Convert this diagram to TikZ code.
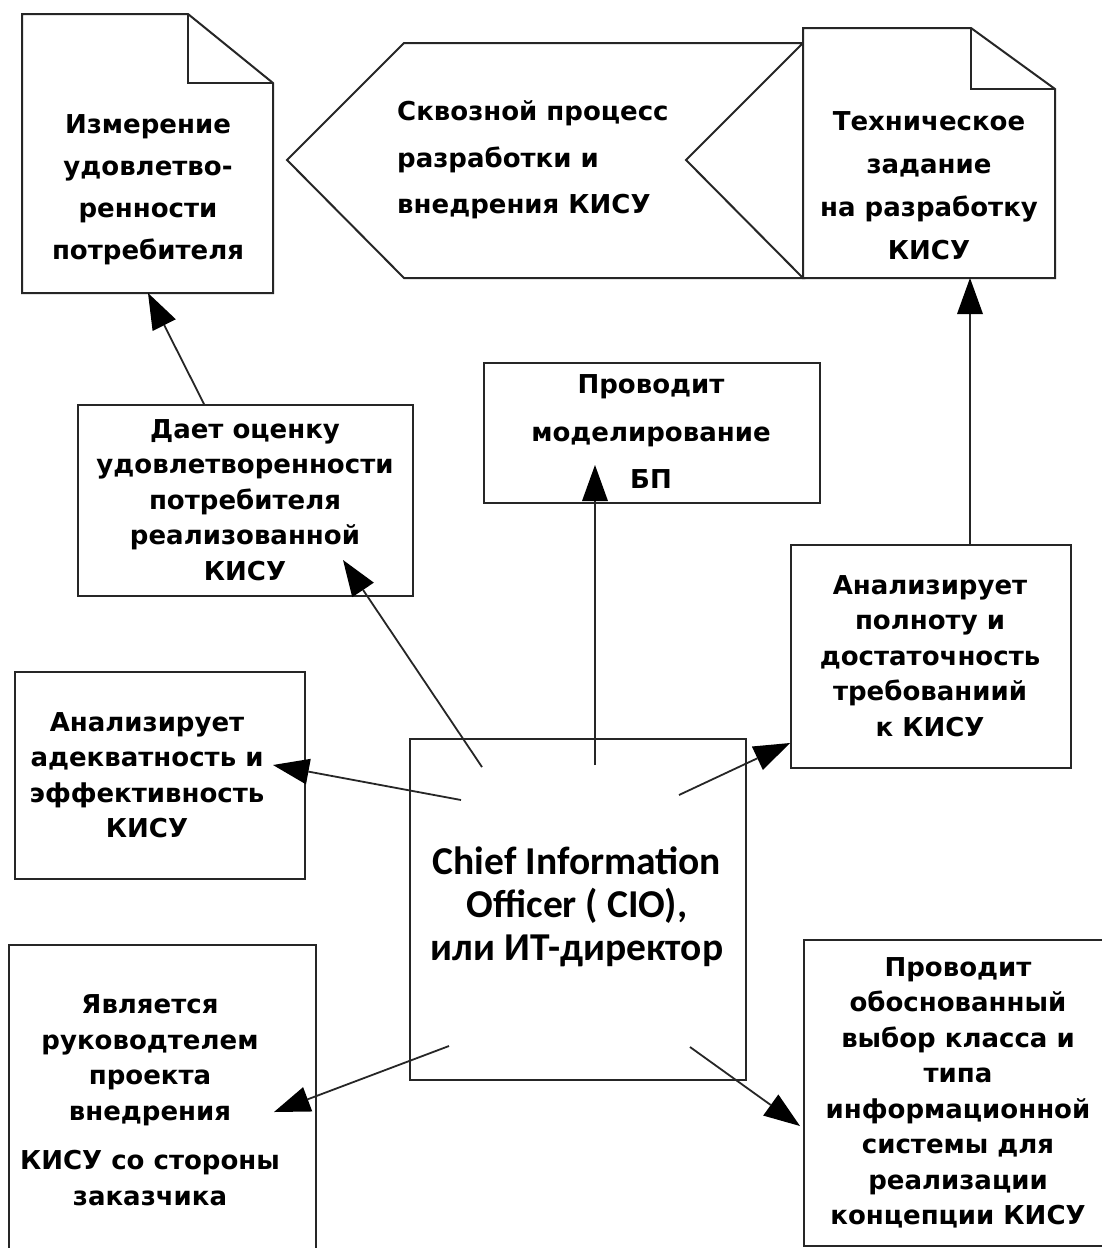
\documentclass[tikz,border=0pt]{standalone}
\usepackage{fontspec}
\setmainfont{DejaVu Sans}
\newfontfamily\cioFont{Carlito}
\usetikzlibrary{arrows.meta}
\begin{document}
\begin{tikzpicture}[x=1pt,y=-1pt,
  shapeline/.style={draw=black!85, line width=2pt, line join=miter},
  boxnode/.style={draw=black!85, line width=2pt, inner sep=0pt, anchor=north west, fill=white},
  txt/.style={align=center, inner sep=0pt, font=\bfseries\fontsize{26}{35.5}\selectfont},
  conn/.style={draw=black!85, line width=1.8pt, -{Triangle[length=36pt,width=26pt,fill=black,line width=0pt]}}]
\clip (0,0) rectangle (1102,1248);
\fill[white] (0,0) rectangle (1102,1248);

% document 1
\draw[shapeline, fill=white] (22,14) -- (188,14) -- (273,83) -- (273,293) -- (22,293) -- cycle;
\draw[shapeline] (188,14) -- (188,83) -- (273,83);
\node[txt, font=\bfseries\fontsize{26}{42}\selectfont] (doc1) at (148,190) {Измерение\\удовлетво-\\ренности\\потребителя};

% process arrow (pentagon)
\draw[shapeline, fill=white] (404,43) -- (803,43) -- (686,160) -- (803,278) -- (404,278) -- (287,160) -- cycle;
\node[txt, align=left, anchor=west, font=\bfseries\fontsize{26}{46.5}\selectfont] (proc) at (397,160) {Сквозной процесс\\разработки и\\внедрения КИСУ};

% document 2
\draw[shapeline, fill=white] (803,28) -- (971,28) -- (1055,89) -- (1055,278) -- (803,278) -- cycle;
\draw[shapeline] (971,28) -- (971,89) -- (1055,89);
\node[txt, font=\bfseries\fontsize{26}{43}\selectfont] (doc2) at (929,186) {Техническое\\задание\\на разработку\\КИСУ};

% boxes
\node[boxnode, minimum width=336pt, minimum height=140pt] (bpbox) at (483,362) {};
\node[txt, font=\bfseries\fontsize{26}{47.5}\selectfont] (bp) at (651,432) {Проводит\\моделирование\\БП};

\node[boxnode, minimum width=335pt, minimum height=191pt] (ocbox) at (77,404) {};
\node[txt] (oc) at (245,500) {Дает оценку\\удовлетворенности\\потребителя\\реализованной\\КИСУ};

\node[boxnode, minimum width=280pt, minimum height=223pt] (plbox) at (790,544) {};
\node[txt] (pl) at (930,656) {Анализирует\\полноту и\\достаточность\\требованиий\\к КИСУ};

\node[boxnode, minimum width=290pt, minimum height=207pt] (adbox) at (14,671) {};
\node[txt] (ad) at (147,775) {Анализирует\\адекватность и\\эффективность\\КИСУ};

\node[boxnode, minimum width=336pt, minimum height=341pt] (ciobox) at (409,738) {};
\node[align=center, inner sep=0pt, font=\cioFont\bfseries\fontsize{39.5}{43}\selectfont] (cio) at (577,907) {Chief Information\\Officer ( CIO),\\или ИТ-директор};

\node[boxnode, minimum width=307pt, minimum height=330pt] (ruk) at (8,944) {};
\node[txt] (ruktxt) at (150,1100) {Является\\руководтелем\\проекта\\внедрения\\[14pt]КИСУ со стороны\\заказчика};

\node[boxnode, minimum width=299pt, minimum height=306pt] (vybbox) at (803,939) {};
\node[txt] (vyb) at (958,1093) {Проводит\\обоснованный\\выбор класса и\\типа\\информационной\\системы для\\реализации\\концепции КИСУ};

% connector endpoints
\coordinate (s1) at (204,404); \coordinate (e1) at (148,293);
\coordinate (s2) at (482,767); \coordinate (e2) at (343,560);
\coordinate (s3) at (595,765); \coordinate (e3) at (595,465);
\coordinate (s4) at (679,795); \coordinate (e4) at (790,743);
\coordinate (s5) at (970,544); \coordinate (e5) at (970,278);
\coordinate (s6) at (461,800); \coordinate (e6) at (273,765);
\coordinate (s7) at (449,1046); \coordinate (e7) at (274,1112);
\coordinate (s8) at (690,1047); \coordinate (e8) at (800,1126);

\draw[conn] (s1) -- (e1);
\draw[conn] (s2) -- (e2);
\draw[conn] (s3) -- (e3);
\draw[conn] (s4) -- (e4);
\draw[conn] (s5) -- (e5);
\draw[conn] (s6) -- (e6);
\draw[conn] (s7) -- (e7);
\draw[conn] (s8) -- (e8);
\end{tikzpicture}
\end{document}
